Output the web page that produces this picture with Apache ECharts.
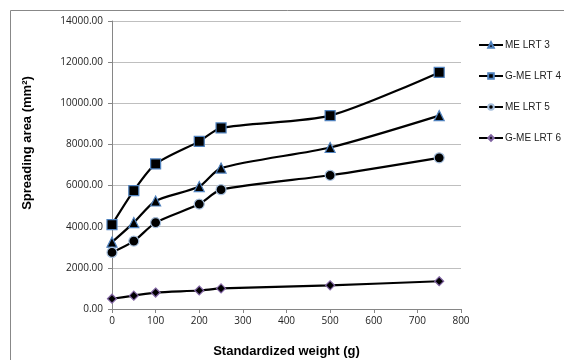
<!DOCTYPE html>
<html><head><meta charset="utf-8">
<script src="https://cdn.jsdelivr.net/npm/echarts@6/dist/echarts.min.js"></script>
<style>html,body{margin:0;padding:0;background:#fff}#c{width:564px;height:360px}</style>
</head><body><div id="c"></div>
<script>
const weights = [0, 50, 100, 200, 250, 500, 750];
const seriesNames = ['ME LRT 3', 'G-ME LRT 4', 'ME LRT 5', 'G-ME LRT 6'];
const meLrt3 = [3250, 4200, 5250, 5950, 6850, 7850, 9400];
const gmeLrt4 = [4100, 5750, 7050, 8150, 8800, 9400, 11500];
const meLrt5 = [2750, 3300, 4200, 5100, 5800, 6500, 7350];
const gmeLrt6 = [500, 650, 800, 900, 1000, 1150, 1350];
const yTitle = 'Spreading area (mm²)';
const xTitle = 'Standardized weight (g)';

const values = [meLrt3, gmeLrt4, meLrt5, gmeLrt6];
const symbols = ['triangle', 'rect', 'circle', 'diamond'];
const symSizes = [10, 10, 10, 9];
const borderCols = ['#4f81bd', '#4f81bd', '#a7c0de', '#8064a2'];

const chart = echarts.init(document.getElementById('c'));
const series = values.map((v, i) => ({
  name: seriesNames[i],
  type: 'line',
  smooth: 0.25,
  data: weights.map((w, j) => [w, v[j]]),
  symbol: symbols[i],
  symbolSize: symSizes[i],
  lineStyle: { color: '#000', width: 2.2 },
  itemStyle: { color: '#000', borderColor: borderCols[i], borderWidth: 1.2 },
  emphasis: { disabled: true },
  z: 3
}));
chart.setOption({
  animation: false,
  backgroundColor: '#fff',
  graphic: [
    { type: 'rect', shape: { x: 10.5, y: 10.5, width: 600, height: 400 }, style: { fill: 'none', stroke: '#888', lineWidth: 1 } },
    { type: 'text', x: 27, y: 143, rotation: Math.PI / 2, style: { text: yTitle, font: 'bold 13px "Liberation Sans"', fill: '#000', align: 'center', verticalAlign: 'middle' } }
  ],
  grid: { left: 112, right: 103, top: 21, bottom: 51, containLabel: false, outerBoundsMode: 'none' },
  legend: {
    orient: 'vertical', left: 478, top: 40, itemGap: 21, itemWidth: 24, itemHeight: 7,
    padding: 0,
    lineStyle: { width: 2 },
    textStyle: { fontFamily: 'Liberation Sans', fontSize: 10, color: '#222', padding: [0, 0, 0, -3] },
    data: seriesNames.map((n) => ({ name: n }))
  },
  xAxis: {
    type: 'value', min: 0, max: 800, interval: 100,
    name: xTitle, nameLocation: 'middle', nameGap: 36,
    nameTextStyle: { fontFamily: 'Liberation Sans', fontWeight: 'bold', fontSize: 13, color: '#000' },
    axisLine: { lineStyle: { color: '#868686' } },
    axisTick: { show: true, length: 4, lineStyle: { color: '#868686' } },
    axisLabel: { fontFamily: 'Open Sans', fontSize: 10, color: '#222', margin: 7 },
    splitLine: { show: false }
  },
  yAxis: {
    type: 'value', min: 0, max: 14000, interval: 2000,
    axisLine: { show: true, lineStyle: { color: '#868686' } },
    axisTick: { show: true, length: 4, lineStyle: { color: '#868686' } },
    axisLabel: { fontFamily: 'Open Sans', fontSize: 10, color: '#222', margin: 9, formatter: (v) => v.toFixed(2) },
    splitLine: { lineStyle: { color: '#bfbfbf' } }
  },
  series: series
});
</script></body></html>
